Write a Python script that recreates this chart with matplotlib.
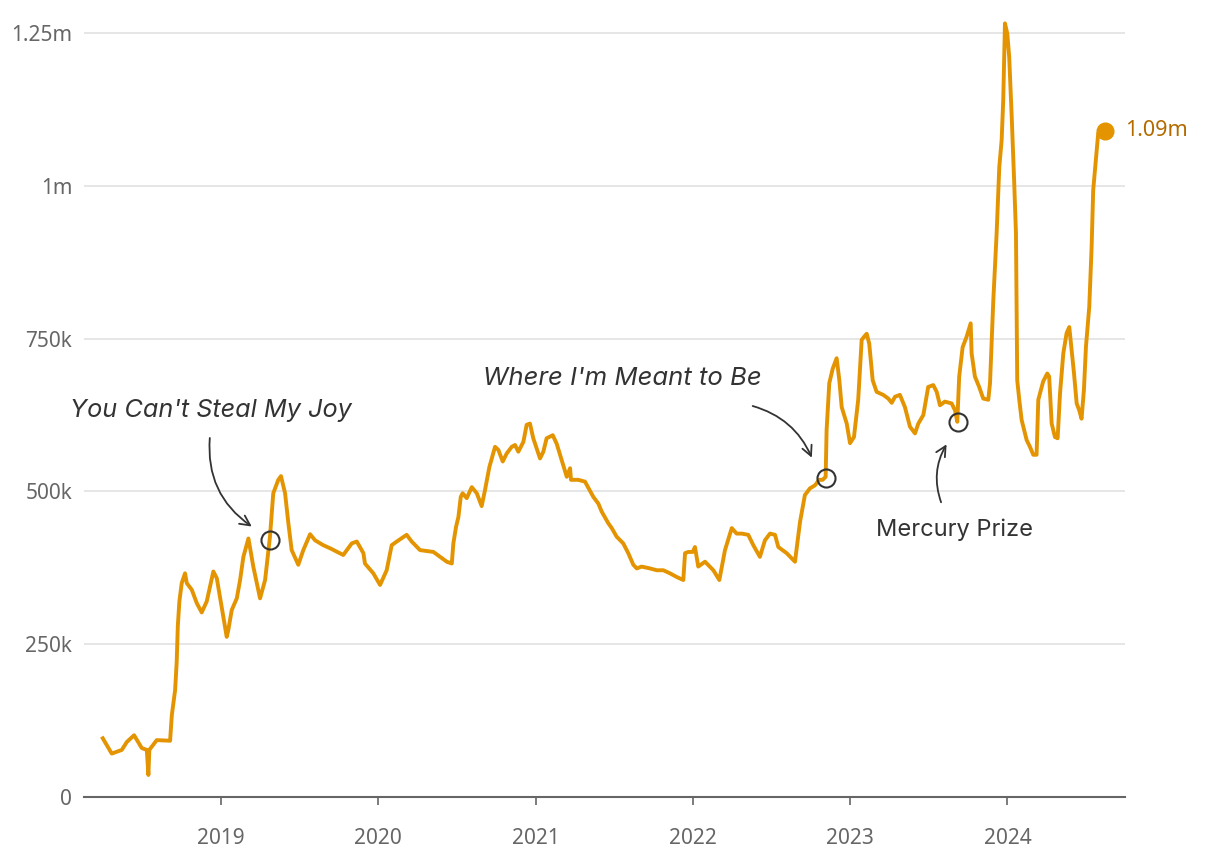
import matplotlib
matplotlib.use('Agg')
import matplotlib.pyplot as plt
from matplotlib.ticker import FuncFormatter

plt.rcParams['font.family'] = ['Inter', 'DejaVu Sans']
tick_font = ['Noto Sans', 'DejaVu Sans']

# weekly listeners, decimal year vs thousands
years = [
    2018.248, 2018.305, 2018.369, 2018.401, 2018.447, 2018.496, 2018.528, 2018.538, 2018.544, 2018.591,
    2018.676, 2018.687, 2018.708, 2018.718, 2018.725, 2018.735, 2018.750, 2018.771, 2018.782, 2018.814,
    2018.846, 2018.877, 2018.909, 2018.951, 2018.973, 2019.004, 2019.036, 2019.046, 2019.068, 2019.100,
    2019.121, 2019.142, 2019.174, 2019.205, 2019.248, 2019.280, 2019.311, 2019.332, 2019.364, 2019.381,
    2019.407, 2019.428, 2019.449, 2019.491, 2019.523, 2019.566, 2019.598, 2019.650, 2019.693, 2019.777,
    2019.831, 2019.863, 2019.905, 2019.915, 2019.968, 2020.011, 2020.053, 2020.085, 2020.117, 2020.180,
    2020.212, 2020.265, 2020.350, 2020.435, 2020.467, 2020.477, 2020.494, 2020.509, 2020.524, 2020.536,
    2020.562, 2020.594, 2020.626, 2020.657, 2020.678, 2020.706, 2020.742, 2020.763, 2020.791, 2020.816,
    2020.848, 2020.869, 2020.890, 2020.922, 2020.943, 2020.964, 2020.985, 2021.007, 2021.028, 2021.049,
    2021.070, 2021.109, 2021.134, 2021.166, 2021.198, 2021.219, 2021.225, 2021.271, 2021.314, 2021.367,
    2021.399, 2021.420, 2021.462, 2021.484, 2021.515, 2021.557, 2021.589, 2021.621, 2021.643, 2021.674,
    2021.727, 2021.770, 2021.812, 2021.854, 2021.897, 2021.939, 2021.950, 2021.971, 2021.999, 2022.013,
    2022.034, 2022.077, 2022.130, 2022.168, 2022.204, 2022.247, 2022.278, 2022.310, 2022.352, 2022.384,
    2022.426, 2022.458, 2022.490, 2022.522, 2022.543, 2022.596, 2022.649, 2022.681, 2022.712, 2022.744,
    2022.776, 2022.803, 2022.825, 2022.844, 2022.850, 2022.867, 2022.889, 2022.914, 2022.931, 2022.946,
    2022.978, 2022.999, 2023.024, 2023.051, 2023.073, 2023.088, 2023.105, 2023.121, 2023.143, 2023.168,
    2023.210, 2023.242, 2023.264, 2023.285, 2023.316, 2023.348, 2023.380, 2023.412, 2023.433, 2023.465,
    2023.496, 2023.528, 2023.550, 2023.571, 2023.602, 2023.645, 2023.666, 2023.681, 2023.693, 2023.715,
    2023.740, 2023.766, 2023.772, 2023.793, 2023.820, 2023.846, 2023.878, 2023.889, 2023.910, 2023.931,
    2023.948, 2023.963, 2023.973, 2023.984, 2023.999, 2024.011, 2024.027, 2024.043, 2024.054, 2024.062,
    2024.075, 2024.090, 2024.122, 2024.143, 2024.164, 2024.185, 2024.196, 2024.227, 2024.253, 2024.265,
    2024.281, 2024.302, 2024.319, 2024.334, 2024.355, 2024.376, 2024.393, 2024.408, 2024.423, 2024.440,
    2024.456, 2024.471, 2024.486, 2024.499, 2024.520, 2024.535, 2024.545, 2024.556, 2024.571, 2024.577,
    2024.618,
]
listeners_k = [
    96, 71, 77, 90, 101, 80, 77, 36, 77, 93,
    92, 134, 175, 221, 279, 320, 350, 366, 350, 339,
    317, 302, 320, 369, 358, 311, 262, 273, 306, 325,
    355, 393, 423, 377, 325, 355, 426, 497, 519, 525,
    497, 448, 404, 380, 404, 430, 420, 412, 407, 396,
    415, 418, 399, 382, 366, 347, 371, 412, 418, 429,
    418, 404, 401, 385, 382, 415, 442, 458, 491, 497,
    489, 507, 497, 476, 502, 540, 573, 568, 549, 562,
    573, 576, 565, 581, 609, 611, 587, 570, 554, 565,
    587, 592, 578, 551, 524, 538, 519, 519, 516, 491,
    480, 467, 448, 440, 426, 415, 399, 380, 374, 377,
    374, 371, 371, 366, 360, 355, 399, 401, 401, 409,
    377, 385, 371, 355, 404, 440, 431, 431, 429, 412,
    393, 420, 431, 429, 409, 399, 385, 450, 494, 505,
    510, 519, 519, 524, 600, 677, 701, 718, 682, 638,
    611, 579, 589, 650, 748, 753, 758, 742, 682, 663,
    658, 652, 645, 655, 658, 638, 606, 595, 611, 625,
    671, 674, 663, 641, 647, 644, 633, 614, 688, 736,
    753, 775, 726, 688, 671, 652, 650, 677, 813, 922,
    1031, 1075, 1140, 1266, 1249, 1211, 1113, 1004, 922, 682,
    650, 617, 584, 573, 560, 560, 650, 680, 693, 688,
    611, 589, 587, 660, 726, 759, 769, 731, 693, 644,
    633, 619, 666, 737, 802, 900, 993, 1026, 1069, 1086,
    1090,
]

# annotated releases
release_labels = ["You Can't Steal My Joy", "Where I'm Meant to Be", "Mercury Prize"]
release_years = [2019.311, 2022.846, 2023.685]
release_values_k = [420, 522, 614]

line_color = '#e39400'
ink = '#333333'

fig = plt.figure(figsize=(12.2, 8.6), dpi=100)
ax = fig.add_axes([0.0689, 0.0733, 0.8532, 0.9237])

values = [v * 1000 for v in listeners_k]
ax.plot(years, values, color=line_color, lw=2.8, solid_joinstyle='round', zorder=3)
ax.plot(years[-1], values[-1], 'o', color=line_color, ms=12, zorder=4)
ax.text(years[-1] + 0.13, values[-1], '1.09m', color='#b36b00', fontsize=15.5,
        family=tick_font, va='center', ha='left')

# release circles
ax.plot(release_years, [v * 1000 for v in release_values_k], 'o', ms=13,
        mfc='none', mec=ink, mew=1.5, zorder=5)

# annotations
ax.text(2018.04, 633000, release_labels[0], fontsize=18.2, style='italic',
        color=ink, va='center', ha='left')
ax.annotate('', xy=(2019.21, 440000), xytext=(2018.93, 592000),
            arrowprops=dict(arrowstyle='->', color=ink, lw=1.3,
                            connectionstyle='arc3,rad=0.3', mutation_scale=18))

ax.text(2020.666, 685000, release_labels[1], fontsize=18.5, style='italic',
        color=ink, va='center', ha='left')
ax.annotate('', xy=(2022.763, 551000), xytext=(2022.363, 641000),
            arrowprops=dict(arrowstyle='->', color=ink, lw=1.3,
                            connectionstyle='arc3,rad=-0.25', mutation_scale=18))

ax.text(2023.164, 438000, release_labels[2], fontsize=17, color=ink,
        va='center', ha='left')
ax.annotate('', xy=(2023.622, 581000), xytext=(2023.584, 478000),
            arrowprops=dict(arrowstyle='->', color=ink, lw=1.3,
                            connectionstyle='arc3,rad=-0.25', mutation_scale=18))

# axes styling
ax.set_xlim(2018.129, 2024.747)
ax.set_ylim(0, 1300000)
ax.set_xticks([2019, 2020, 2021, 2022, 2023, 2024])
ax.set_xticklabels(['2019', '2020', '2021', '2022', '2023', '2024'])
ax.set_yticks([0, 250000, 500000, 750000, 1000000, 1250000])


def fmt(v, pos):
    if v == 0:
        return '0'
    if v >= 1e6:
        return f'{v / 1e6:g}m'
    return f'{v / 1e3:g}k'


ax.yaxis.set_major_formatter(FuncFormatter(fmt))
ax.grid(axis='y', color='#e2e2e2', lw=1.2)
ax.set_axisbelow(True)
for s in ['top', 'right', 'left']:
    ax.spines[s].set_visible(False)
ax.spines['bottom'].set_color('#666666')
ax.spines['bottom'].set_linewidth(1.5)
ax.tick_params(axis='x', colors='#666666', length=6, width=1.2, pad=16, labelsize=15)
ax.tick_params(axis='y', colors='#666666', length=0, pad=8.5, labelsize=15)
for lab in ax.get_xticklabels() + ax.get_yticklabels():
    lab.set_family(tick_font)

fig.savefig('out.png', dpi=100)
